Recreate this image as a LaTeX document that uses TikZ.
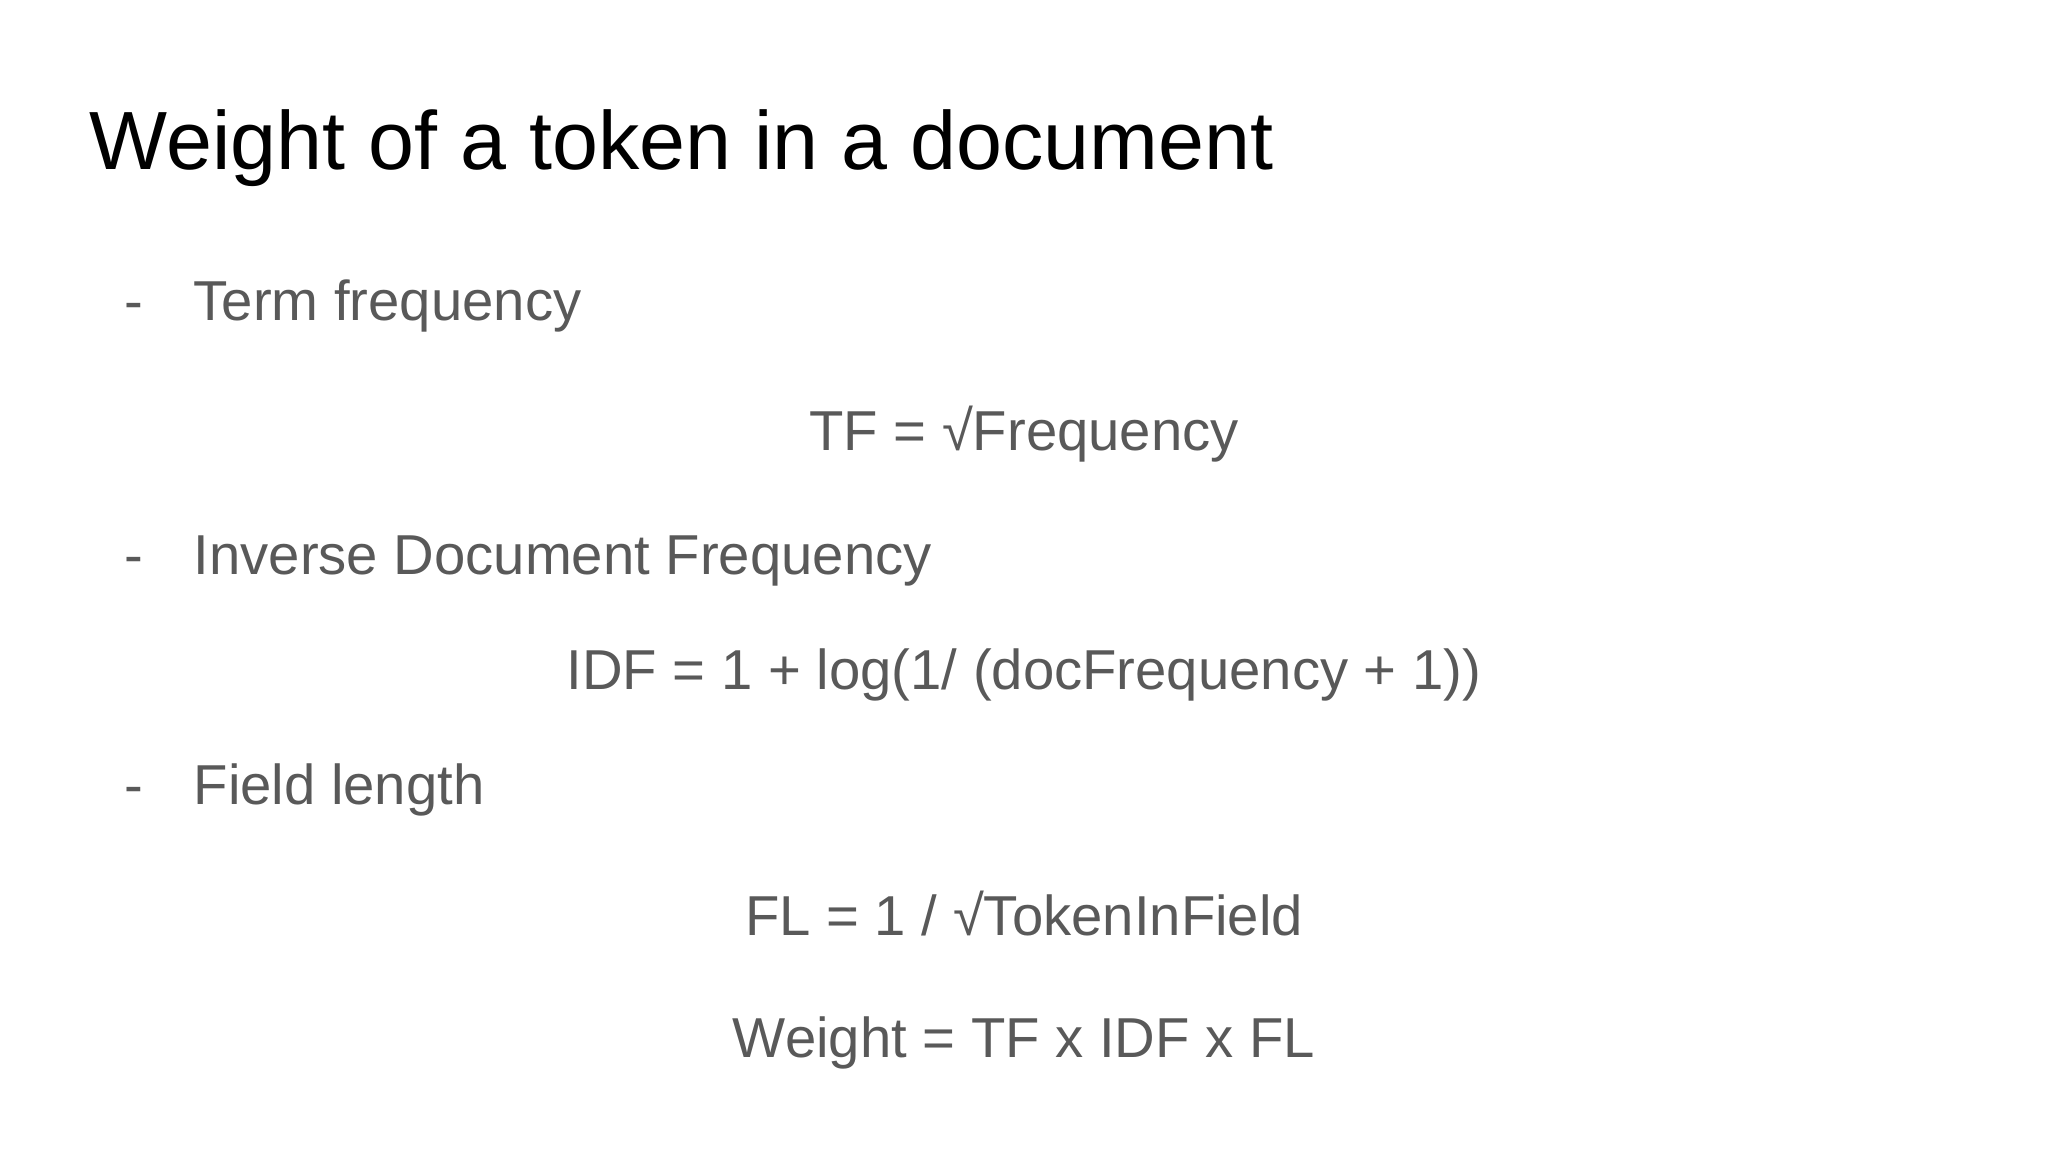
\documentclass[tikz,border=0pt]{standalone}
\usepackage{fontspec}
\setmainfont{Liberation Sans}
\definecolor{txt}{HTML}{595959}
\begin{document}
\begin{tikzpicture}[x=0.01cm,y=0.01cm,
  body/.style={text=txt,font=\fontsize{16}{19}\selectfont,inner sep=0pt},
  bl/.style={body,anchor=base west},
  fm/.style={body,anchor=base}]
\useasboundingbox (0,0) rectangle (2048,1152);
\node[anchor=base west,inner sep=0pt,font=\fontsize{23.5}{28}\selectfont] (title) at (89,982) {Weight of a token in a document};
\node[bl] (d1) at (124,831) {-};
\node[bl] (b1) at (193,831) {Term frequency};
\node[fm] (f1) at (1024,701) {TF = √Frequency};
\node[bl] (d2) at (124,577) {-};
\node[bl] (b2) at (193,577) {Inverse Document Frequency};
\node[fm] (f2) at (1024,462) {IDF = 1 + log(1/ (docFrequency + 1))};
\node[bl] (d3) at (124,347) {-};
\node[bl] (b3) at (193,347) {Field length};
\node[fm] (f3) at (1024,216) {FL = 1 / √TokenInField};
\node[fm] (f4) at (1024,94) {Weight = TF x IDF x FL};
\end{tikzpicture}
\end{document}
